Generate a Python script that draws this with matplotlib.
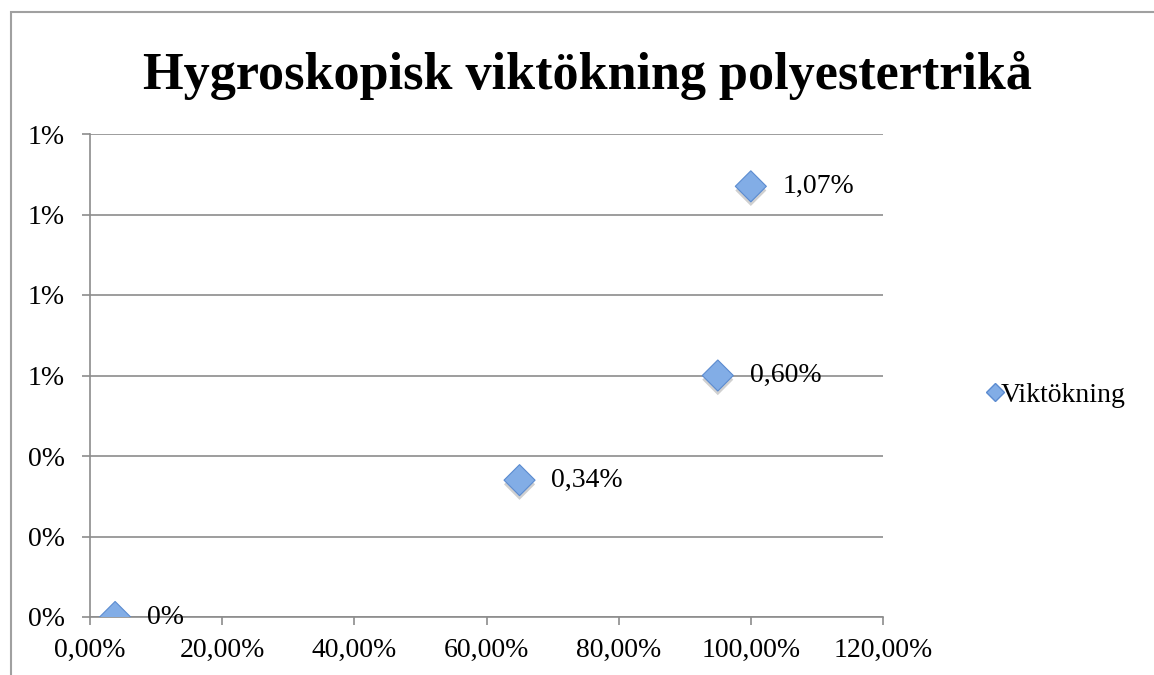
import matplotlib
matplotlib.use('Agg')
import matplotlib.pyplot as plt
import matplotlib.patheffects as pe
from matplotlib.lines import Line2D

# Relativ fuktighet (%) och viktökning (%)
rf = [3.8, 65, 95, 100]
viktokning = [0.0, 0.34, 0.60, 1.07]
punkt_etiketter = ['0%', '0,34%', '0,60%', '1,07%']

x_ticks = [0, 20, 40, 60, 80, 100, 120]
x_labels = ['0,00%', '20,00%', '40,00%', '60,00%', '80,00%', '100,00%', '120,00%']
y_ticks = [0.0, 0.2, 0.4, 0.6, 0.8, 1.0, 1.2]
y_labels = ['0%', '0%', '0%', '1%', '1%', '1%', '1%']

plt.rcParams['font.family'] = ['Liberation Serif', 'DejaVu Serif']

fig = plt.figure(figsize=(11.54, 6.75), dpi=100)
ax = fig.add_axes([90/1154, 1-617/675, (883-90)/1154, (617-134)/675])

grey = '#8c8c8c'
face = '#82ade6'
edge = '#5b8bd0'

ax.scatter(rf, viktokning, marker='D', s=250, color=face, edgecolors=edge,
           linewidths=0.8, zorder=5,
           path_effects=[pe.SimplePatchShadow(offset=(0, -3), alpha=0.25, shadow_rgbFace='#444444'),
                         pe.Normal()])

for xv, yv, lab in zip(rf, viktokning, punkt_etiketter):
    ax.annotate(lab, (xv, yv), xytext=(23, 0), textcoords='offset points',
                ha='left', va='center', fontsize=20, color='black', zorder=6)

ax.set_xlim(0, 120)
ax.set_ylim(0, 1.2)
ax.set_xticks(x_ticks)
ax.set_xticklabels(x_labels)
ax.set_yticks(y_ticks)
ax.set_yticklabels(y_labels)

ax.grid(axis='y', color=grey, linewidth=1.2, zorder=1)
ax.set_axisbelow(True)
for s in ['top', 'right']:
    ax.spines[s].set_visible(False)
for s in ['left', 'bottom']:
    ax.spines[s].set_color(grey)
    ax.spines[s].set_linewidth(1.2)
ax.tick_params(axis='both', colors=grey, labelcolor='black', labelsize=20,
               length=6, width=1.2, direction='out')
ax.tick_params(axis='y', pad=12)
ax.tick_params(axis='x', pad=9)

fig.text(587/1154, 1-76/675, 'Hygroskopisk viktökning polyestertrikå',
         ha='center', va='center', fontsize=37.5, fontweight='bold')

# legend
handle = Line2D([], [], marker='D', linestyle='none', markersize=9,
                markerfacecolor=face, markeredgecolor=edge)
fig.legend([handle], ['Viktökning'], loc='center left',
           bbox_to_anchor=(970/1154, 1-395/675), frameon=False,
           fontsize=20, handletextpad=-0.2, handlelength=0.8, borderpad=0)

# outer frame
frame = plt.Rectangle((11/1154, -0.1), 1.2, 1 - 12/675 + 0.1, transform=fig.transFigure,
                      fill=False, edgecolor='#a0a0a0', linewidth=1.5)
fig.patches.append(frame)

fig.savefig('out.png', dpi=100)
